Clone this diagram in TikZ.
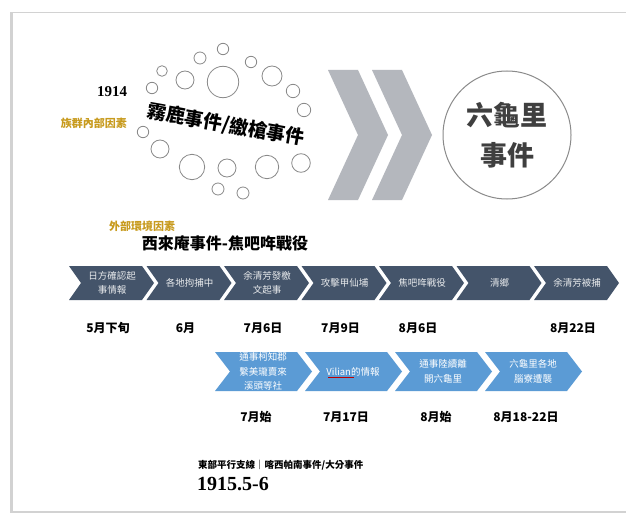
\documentclass[tikz,border=0pt]{standalone}
\usepackage{fontspec}
\setmainfont{Noto Sans CJK TC}
\newfontfamily\numfont{Liberation Serif}
\usetikzlibrary{positioning}
\definecolor{slate}{HTML}{44546A}
\definecolor{skyblue}{HTML}{5B9BD5}
\definecolor{chevgray}{HTML}{B4B7BD}
\definecolor{goldtext}{HTML}{C89B1E}
\definecolor{ringgray}{HTML}{8A8A8A}
\definecolor{inktext}{HTML}{3F3F3F}

\begin{document}
\begin{tikzpicture}[x=1pt,y=-1pt,
  evtext/.style={text=white!88!slate,align=center,inner sep=0pt,font=\fontsize{9.5}{14.5}\selectfont},
  evdate/.style={inner sep=0pt,font=\fontsize{12}{14}\selectfont\bfseries},
  goldnote/.style={text=goldtext,inner sep=0pt,font=\fontsize{11}{13}\selectfont\bfseries},
  ring/.style={draw=ringgray,line width=.8pt}]
  \useasboundingbox (0,0) rectangle (626,516);
  % slide
  \fill[gray!35] (10,12) rectangle (626,513);
  \fill[white] (12.5,13.5) rectangle (626,510.5);

  % inner factors
  \foreach \cx/\cy/\r in {223/49/5.7, 200/58/6, 251/62/5.7, 162/71/5.3, 185/80/9,
      223/82/15.7, 272/76/10, 152/88/5.7, 293/91/6.7, 304/110/6.7, 143/132/5.7,
      160/149/9, 192/167/12.7, 227/168/9, 267/167/11.7, 301/163/9.3, 218/189/6, 243/193/6}
      \draw[ring] (\cx,\cy) circle[radius=\r pt];
  \node[inner sep=0pt,font=\fontsize{15}{16}\numfont\bfseries] (year-a) at (112,92) {1914};
  \node[goldnote,anchor=east] (inner) at (127,123) {族群內部因素};
  \node[rotate=-10,inner sep=0pt,font=\fontsize{19}{20}\selectfont\bfseries] (title) at (226,125) {霧鹿事件/繳槍事件};

  \foreach \xpos in {328,372}
      \fill[chevgray] (\xpos,70) -- ++(30,0) -- ++(30,65) -- ++(-30,65) -- ++(-30,0) -- ++(30,-65) -- cycle;
  \node[circle,draw=ringgray,line width=1pt,minimum size=128pt,align=center,text=inktext,
      font=\fontsize{27}{40}\selectfont\bfseries] (result) at (507,135) {六龜里\\事件};

  % outer factors
  \node[goldnote] (outer) at (142,226) {外部環境因素};
  \node[inner sep=0pt,font=\fontsize{16}{18}\selectfont\bfseries] (war) at (225,243) {西來庵事件-焦吧哖戰役};

  \foreach \xpos/\evlabel/\evday[count=\nn] in {%
      69/{日方確認起\\事情報}/{5月下旬},
      146.5/{各地拘捕中}/{6月},
      224/{余清芳發檄\\文起事}/{7月6日},
      301.5/{攻擊甲仙埔}/{7月9日},
      379/{焦吧哖戰役}/{8月6日},
      456.5/{清鄉}/{},
      534/{余清芳被捕}/{8月22日}%
  }{%
      \fill[slate] (\xpos,266) -- ++(73,0) -- ++(12,17) -- ++(-12,17) -- ++(-73,0) -- ++(12,-17) -- cycle;
      \node[evtext] (main-\nn) at (\xpos+43,283) {\evlabel};
      \node[evdate] (mday-\nn) at (\xpos+39,328) {\evday};
  }

  \foreach \xpos/\evlabel/\evday[count=\nn] in {%
      215/{通事柯知郡\\繫美瓏賣來\\溪頭等社}/{7月始},
      305/{Vilian的情報}/{7月17日},
      395/{通事陸續離\\開六龜里}/{8月始},
      485/{六龜里各地\\腦寮遭襲}/{8月18-22日}%
  }{%
      \fill[skyblue] (\xpos,352) -- ++(82,0) -- ++(15,19.5) -- ++(-15,19.5) -- ++(-82,0) -- ++(15,-19.5) -- cycle;
      \node[evtext,text=white] (side-\nn) at (\xpos+48,371.5) {\evlabel};
      \node[evdate] (sday-\nn) at (\xpos+41,417) {\evday};
  }
  \draw[red!75!black,line width=.5pt] (328,377) -- (354,377);

  % eastern branch
  \node[anchor=west,inner sep=0pt,font=\fontsize{9.5}{11}\selectfont\bfseries] (east) at (198,465) {東部平行支線｜喀西帕南事件/大分事件};
  \node[anchor=west,inner sep=0pt,font=\fontsize{20}{22}\numfont\bfseries] (year-b) at (197,484) {1915.5-6};
\end{tikzpicture}
\end{document}
